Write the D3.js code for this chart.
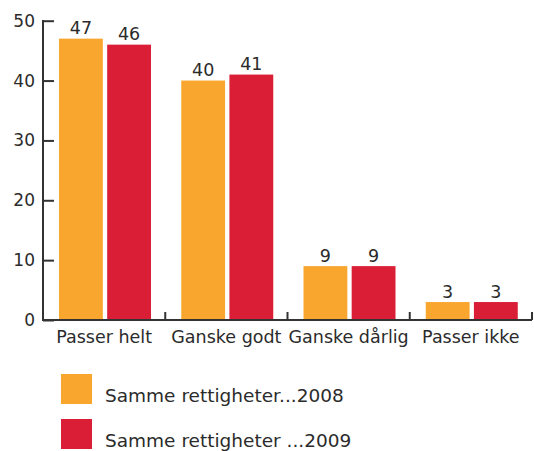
<!DOCTYPE html>
<html><head><meta charset="utf-8">
<script src="https://cdn.jsdelivr.net/npm/d3@7"></script>
<style>body{margin:0;background:#fff}svg{display:block}text{font-family:"DejaVu Sans",Verdana,sans-serif;fill:#2b2b2b}</style>
</head><body>
<script>
const categories = ["Passer helt", "Ganske godt", "Ganske dårlig", "Passer ikke"];
const seriesNames = ["Samme rettigheter...2008", "Samme rettigheter ...2009"];
const values2008 = [47, 40, 9, 3];
const values2009 = [46, 41, 9, 3];
const yTicks = [0, 10, 20, 30, 40, 50];
const colors = ["#F9A62E", "#D91E36"];

const W = 534, H = 451;
const svg = d3.select("body").append("svg").attr("width", W).attr("height", H);
const x0 = d3.scaleBand().domain(categories).range([43, 532]).paddingInner(0).paddingOuter(0);
const x1 = d3.scaleBand().domain([0, 1]).range([16, 108]).paddingInner(0.09);
const y = d3.scaleLinear().domain([0, 50]).range([320, 20.7]);
const series = [values2008, values2009];

const g = svg.append("g");
categories.forEach((c, i) => {
  series.forEach((vals, s) => {
    const bx = x0(c) + x1(s);
    g.append("rect").attr("x", bx).attr("y", y(vals[i])).attr("width", x1.bandwidth())
      .attr("height", y(0) - y(vals[i])).attr("fill", colors[s]);
    g.append("text").attr("x", bx + x1.bandwidth() / 2).attr("y", y(vals[i]) - 4.5)
      .attr("text-anchor", "middle").attr("font-size", 17.5).text(vals[i]);
  });
});

// y axis
const yAxis = d3.axisRight(y).tickValues(yTicks).tickSize(11).tickFormat("");
const ya = svg.append("g").attr("transform", "translate(43,0)").call(yAxis);
ya.select(".domain").remove();
ya.selectAll("line").attr("stroke", "#333").attr("stroke-width", 2);
svg.append("line").attr("x1", 43).attr("x2", 43).attr("y1", 20).attr("y2", 321).attr("stroke", "#333").attr("stroke-width", 2);
yTicks.forEach(t => {
  svg.append("text").attr("x", 35).attr("y", y(t) + 6).attr("text-anchor", "end").attr("font-size", 17).text(t);
});

// x axis
svg.append("line").attr("x1", 42).attr("x2", 532).attr("y1", 320).attr("y2", 320).attr("stroke", "#333").attr("stroke-width", 2);
const bounds = categories.map(c => x0(c)).concat([x0(categories[3]) + x0.bandwidth()]);
bounds.slice(1).forEach(b => {
  svg.append("line").attr("x1", b).attr("x2", b).attr("y1", 320).attr("y2", 312).attr("stroke", "#333").attr("stroke-width", 2);
});
categories.forEach(c => {
  svg.append("text").attr("x", x0(c) + x0.bandwidth() / 2).attr("y", 343).attr("text-anchor", "middle").attr("font-size", 17.5).text(c);
});

// legend
seriesNames.forEach((n, i) => {
  const ly = 374 + i * 45;
  svg.append("rect").attr("x", 61).attr("y", ly).attr("width", 31).attr("height", 30).attr("fill", colors[i]);
  svg.append("text").attr("x", 105).attr("y", ly + 27.5).attr("font-size", 18.5).text(n);
});
</script>
</body></html>
